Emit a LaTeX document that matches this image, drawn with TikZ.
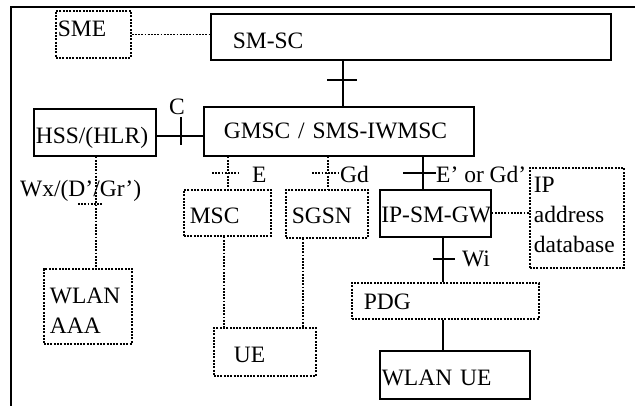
\documentclass[tikz,border=0pt]{standalone}
\usepackage{fontspec}
\setmainfont{Liberation Serif}
\begin{document}
\begin{tikzpicture}[x=1pt,y=-1pt,
  txt/.style={font=\fontsize{23.5}{30}\selectfont},
  basebox/.style={txt, anchor=north west, inner ysep=0pt, align=left},
  sbox/.style={basebox, draw, line width=1.6pt},
  dbox/.style={basebox, draw, line width=1.7pt, dash pattern=on 2pt off 1.3pt},
  conn/.style={line width=1.6pt},
  dconn/.style={line width=1.6pt, dash pattern=on 1.8pt off 1.4pt},
  lbl/.style={txt, inner sep=0pt, anchor=base west}]
\useasboundingbox (0,0) rectangle (635,406);
% frame
\draw[line width=1.6pt] (11,406) -- (11,7) -- (635,7);
% boxes
\node[dbox, minimum width=75pt, inner xsep=2pt, text width=71pt, text height=26pt, text depth=21pt] (sme) at (55,10) {SME};
\node[sbox, minimum width=400pt, inner xsep=22pt, text width=356pt, text height=35pt, text depth=11pt] (smsc) at (210,13) {SM-SC};
\node[sbox, minimum width=122pt, inner xsep=2pt, text width=118pt, text height=35pt, text depth=12pt] (hss) at (33,108) {HSS/(HLR)};
\node[sbox, minimum width=270pt, inner xsep=20pt, text width=230pt, text height=32pt, text depth=17pt] (gmsc) at (203,106) {GMSC / SMS-IWMSC};
\node[dbox, minimum width=87pt, inner xsep=6pt, text width=75pt, text height=34pt, text depth=12pt] (msc) at (183,189) {MSC};
\node[dbox, minimum width=82pt, inner xsep=6pt, text width=70pt, text height=34pt, text depth=14pt] (sgsn) at (285,189) {SGSN};
\node[sbox, minimum width=111pt, inner xsep=1.5pt, text width=108pt, text height=33pt, text depth=14pt] (ipsm) at (379,189) {\mbox{IP-SM-GW}};
\node[dbox, minimum width=94pt, inner xsep=4pt, text width=86pt, text height=25pt, text depth=75pt] (ipdb) at (529,167) {IP\\address\\database};
\node[dbox, minimum width=187pt, inner xsep=12pt, text width=163pt, text height=27pt, text depth=9pt] (pdg) at (351,282) {PDG};
\node[sbox, minimum width=150pt, inner xsep=2pt, text width=146pt, text height=35pt, text depth=13pt] (wlanue) at (379,350) {WLAN UE};
\node[dbox, minimum width=102pt, inner xsep=20pt, text width=62pt, text height=35pt, text depth=13pt] (ue) at (213,327) {UE};
\node[dbox, minimum width=88pt, inner xsep=6pt, text width=76pt, text height=35pt, text depth=40pt] (aaa) at (43,268) {WLAN\\AAA};
% SME -- SM-SC
\draw[dconn] (sme.east) -- (smsc.west |- sme.east);
% SM-SC -- GMSC
\coordinate (tA) at (343,80);
\draw[conn] (smsc.south -| tA) -- (gmsc.north -| tA);
\draw[conn] ([xshift=-16pt]tA) -- ([xshift=14pt]tA);
% C
\coordinate (tC) at (181,136);
\draw[conn] (hss.east |- tC) -- (gmsc.west |- tC);
\draw[conn] ([yshift=19pt]tC) -- ([yshift=-9pt]tC);
\node[lbl] (lC) at (169,115) {C};
% E
\coordinate (tE) at (228,173);
\draw[dconn] (gmsc.south -| tE) -- (msc.north -| tE);
\draw[dconn] ([xshift=-16pt]tE) -- ([xshift=12pt]tE);
\node[lbl] (lE) at (252,183) {E};
% Gd
\coordinate (tG) at (328,173);
\draw[dconn] (gmsc.south -| tG) -- (sgsn.north -| tG);
\draw[dconn] ([xshift=-16pt]tG) -- ([xshift=10pt]tG);
\node[lbl] (lG) at (340,183) {Gd};
% E' or Gd'
\coordinate (tP) at (423,173);
\draw[conn] (gmsc.south -| tP) -- (ipsm.north -| tP);
\draw[conn] ([xshift=-20pt]tP) -- ([xshift=13pt]tP);
\node[lbl] (lP) at (436,183) {E’ or Gd’};
% Wx
\coordinate (tW) at (96,204);
\draw[dconn] (hss.south -| tW) -- (aaa.north -| tW);
\draw[dconn] ([xshift=-18pt]tW) -- ([xshift=7pt]tW);
\node[lbl] (lW) at (20,197) {Wx/(D’/Gr’)};
% IP-SM-GW -- IP db
\draw[dconn] (ipsm.east) -- (ipdb.west |- ipsm.east);
% Wi
\coordinate (tI) at (443,259);
\draw[conn] (ipsm.south -| tI) -- (pdg.north -| tI);
\draw[conn] ([xshift=-10pt]tI) -- ([xshift=12pt]tI);
\node[lbl] (lI) at (462,267) {Wi};
% PDG -- WLAN UE
\draw[conn] (pdg.south -| tI) -- (wlanue.north -| tI);
% MSC, SGSN -- UE
\coordinate (m1) at (224,300);
\coordinate (s1) at (303,300);
\draw[dconn] (msc.south -| m1) -- (ue.north -| m1);
\draw[dconn] (sgsn.south -| s1) -- (ue.north -| s1);
\end{tikzpicture}
\end{document}
